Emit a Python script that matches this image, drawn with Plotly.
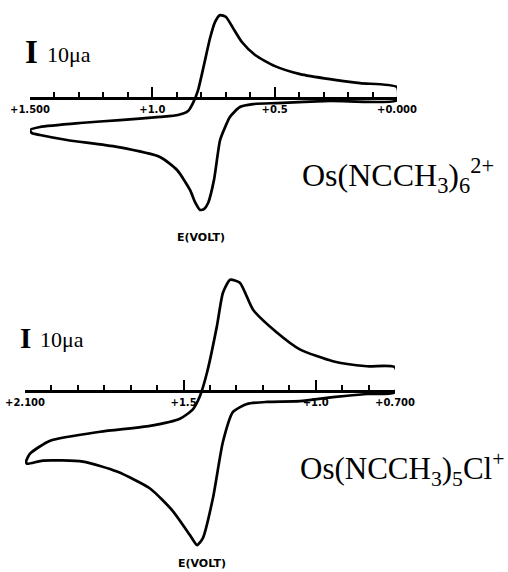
import plotly.graph_objects as go

W, H = 508, 572

# ---- Top voltammogram: Os(NCCH3)6 2+  (E in V, I in microamps) ----
top_E = [1.500, 1.459, 1.296, 1.132, 0.969, 0.895, 0.854, 0.834, 0.813, 0.789,
         0.764, 0.744, 0.723, 0.699, 0.670, 0.634, 0.580, 0.499, 0.396, 0.274,
         0.151, 0.000,
         0.000, 0.274, 0.490, 0.589, 0.642, 0.683, 0.699, 0.723, 0.748, 0.772,
         0.789, 0.805, 0.826, 0.846, 0.899, 0.969, 1.144, 1.349, 1.459, 1.492,
         1.500]
top_I = [-15.2, -13.8, -11.9, -10.5, -9.0, -8.1, -6.2, -2.4, 3.8, 15.7,
         28.6, 36.2, 39.5, 38.6, 33.3, 26.7, 20.5, 15.2, 11.4, 9.0,
         7.1, 5.2,
         -1.0, -1.4, -2.4, -2.9, -4.3, -9.0, -12.9, -20.0, -39.0, -50.0,
         -52.9, -53.3, -49.5, -43.8, -34.3, -28.1, -23.3, -20.0, -17.6, -16.7,
         -15.2]

# ---- Bottom voltammogram: Os(NCCH3)5Cl+ ----
bot_E = [2.096, 2.081, 2.005, 1.816, 1.627, 1.514, 1.464, 1.438, 1.411, 1.374,
         1.351, 1.324, 1.287, 1.237, 1.147, 1.060, 0.935, 0.806, 0.700,
         0.700, 0.806, 0.935, 1.060, 1.184, 1.260, 1.313, 1.351, 1.389, 1.427,
         1.449, 1.476, 1.540, 1.627, 1.752, 1.881, 2.032, 2.092, 2.096]
bot_I = [-33.8, -30.0, -23.8, -19.5, -16.7, -13.3, -8.6, -2.4, 9.0, 31.0,
         47.1, 53.3, 51.9, 39.0, 28.1, 20.0, 14.3, 11.9, 11.4,
         -0.5, -1.4, -2.9, -4.8, -5.2, -6.2, -10.0, -24.3, -51.4, -70.5,
         -73.8, -69.0, -57.6, -46.7, -38.6, -33.8, -33.3, -34.8, -33.8]

top_tickvals = [1.5, 1.0, 0.5, 0.0]
top_ticktext = ["+1.500", "+1.0", "+0.5", "+0.000"]
bot_tickvals = [2.1, 1.5, 1.0, 0.7]
bot_ticktext = ["+2.100", "+1.5", "+1.0", "+0.700"]

top_xrange = [1.5, 0.0]
bot_xrange = [2.1, 0.7]
top_yrange = [-72.4, 46.7]
bot_yrange = [-86.7, 67.6]

split = 1 - 250 / H
top_dom = [split, 1.0]
bot_dom = [0.0, split]


def zero_pos(dom, yr):
    return dom[0] + (0 - yr[0]) / (yr[1] - yr[0]) * (dom[1] - dom[0])


fig = go.Figure()
line = dict(color="black", width=2.7, shape="spline", smoothing=0.6)
fig.add_trace(go.Scatter(x=top_E, y=top_I, mode="lines", line=line,
                         xaxis="x", yaxis="y", cliponaxis=False, hoverinfo="skip"))
fig.add_trace(go.Scatter(x=bot_E, y=bot_I, mode="lines", line=line,
                         xaxis="x2", yaxis="y2", cliponaxis=False, hoverinfo="skip"))

tickfont = dict(family="DejaVu Sans", size=10, color="black", weight="bold")


def xaxis_cfg(dom, rng, pos, tv, tt):
    return dict(domain=dom, range=[rng[0] + 1e-6, rng[1] - 1e-6], anchor="free",
                position=pos, side="bottom", showline=True, linecolor="black",
                linewidth=2.5, ticks="inside", ticklen=10, tickwidth=2,
                tickcolor="black", tickvals=tv, ticktext=tt, tickfont=tickfont,
                showgrid=False, zeroline=False, ticklabelstandoff=1,
                automargin=False,
                minor=dict(dtick=0.1, tick0=0, ticks="inside", ticklen=5,
                           tickwidth=2, tickcolor="black", showgrid=False))


fig.update_layout(
    template="none",
    width=W, height=H, margin=dict(l=0, r=0, t=0, b=0, pad=0, autoexpand=False),
    paper_bgcolor="white", plot_bgcolor="white", showlegend=False,
    xaxis=xaxis_cfg([30 / W, 397 / W], top_xrange, zero_pos(top_dom, top_yrange),
                    top_tickvals, top_ticktext),
    yaxis=dict(domain=top_dom, range=top_yrange, visible=False, automargin=False),
    xaxis2=xaxis_cfg([25 / W, 395 / W], bot_xrange, zero_pos(bot_dom, bot_yrange),
                     bot_tickvals, bot_ticktext),
    yaxis2=dict(domain=bot_dom, range=bot_yrange, visible=False, automargin=False),
)


def ann(text, px, py, size, family="Liberation Serif", xanchor="left", bold=False):
    fig.add_annotation(text=text, x=px / W, y=1 - py / H, xref="paper", yref="paper",
                       showarrow=False, xanchor=xanchor, yanchor="middle",
                       font=dict(family=family, size=size, color="black",
                                 weight="bold" if bold else "normal"))


serif = "Liberation Serif"
ann("I", 23, 52, 33, serif, bold=True)
ann("10μa", 45, 55, 22, serif)
ann("I", 18, 338, 29, serif, bold=True)
ann("10μa", 38, 339, 22, serif)
ann("Os(NCCH<sub>3</sub>)<sub>6</sub><sup>2+</sup>", 300, 175, 32, serif)
ann("Os(NCCH<sub>3</sub>)<sub>5</sub>Cl<sup>+</sup>", 298, 469, 31, serif)
ann("E(VOLT)", 201, 238, 11, "DejaVu Sans", xanchor="center", bold=True)
ann("E(VOLT)", 202, 563, 11, "DejaVu Sans", xanchor="center", bold=True)

fig.write_html(
    "out.html",
    config={"displayModeBar": False},
    post_script="document.body.style.margin='0';document.body.style.overflow='hidden';",
)
